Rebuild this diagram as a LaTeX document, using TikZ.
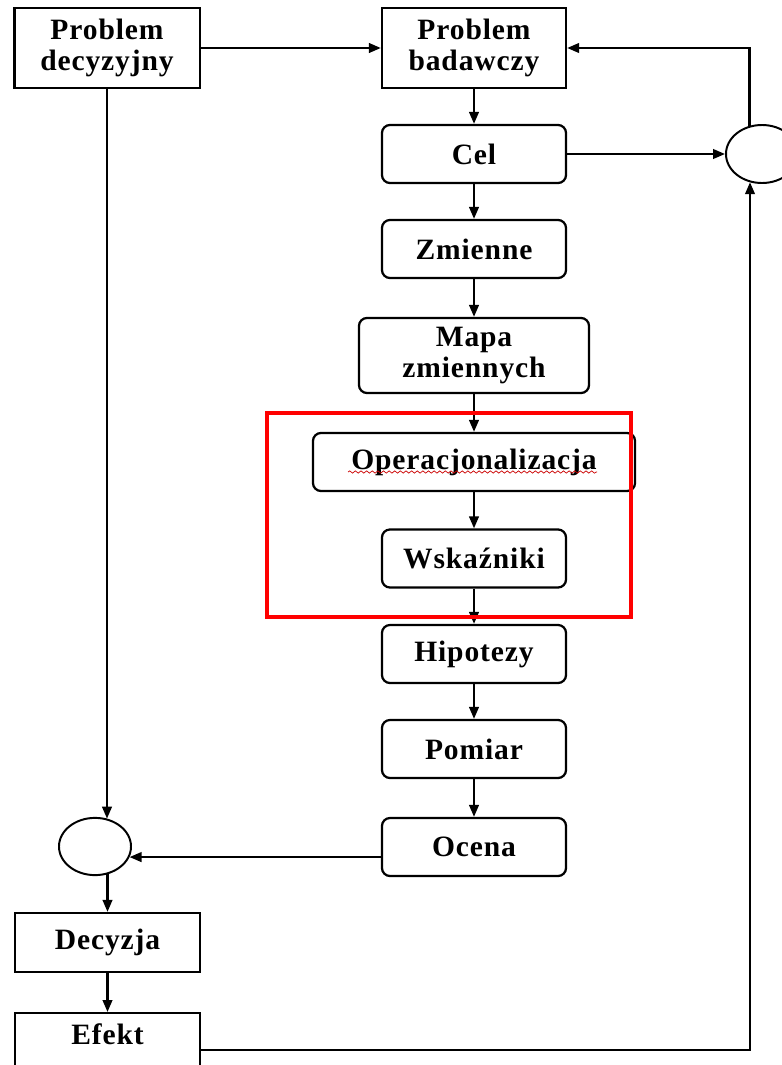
\documentclass[tikz,border=0pt]{standalone}
\usepackage{fontspec}
\setmainfont{Liberation Serif}[LetterSpace=3]
\usetikzlibrary{shapes.geometric,arrows.meta,decorations.pathmorphing}

\tikzset{
  box/.style={draw, line width=1.6pt, fill=white, align=center, inner sep=0pt,
    font=\bfseries\fontsize{21}{21.5}\selectfont},
  rbox/.style={box, rounded corners=0.2cm},
  junction/.style={ellipse, draw, line width=1.4pt, fill=white, inner sep=0pt,
    minimum width=1.8cm, minimum height=1.43cm},
  flow/.style={line width=1.6pt, -{Triangle[length=0.3cm,width=0.24cm]}},
  spell/.style={red!80!black, line width=0.5pt, decorate,
    decoration={snake, amplitude=0.8, segment length=4}},
}

\begin{document}
\begin{tikzpicture}[x=0.025cm, y=-0.025cm]

        \clip (0,0) rectangle (782,1065);
        \fill[white] (0,0) rectangle (782,1065);

        \begin{scope}[every node/.style={box, minimum width=4.63cm}]
          \node[minimum height=2cm] (pd)  at (107,48)  {Problem\\decyzyjny};
          \node[minimum width=4.6cm, minimum height=2cm] (pb)  at (474,48)  {Problem\\badawczy};
          \node[minimum height=1.475cm] (dec) at (107.5,942.5) {Decyzja};
          \node[anchor=north, text height=0.775cm, text depth=1.2cm] (efe) at (107.5,1012) {Efekt};
        \end{scope}

        \begin{scope}[every node/.style={rbox, minimum width=4.6cm, minimum height=1.45cm}]
          \node (cel)  at (474,154)  {Cel};
          \node (zm)   at (474,249)  {Zmienne};
          \node[minimum width=5.75cm, minimum height=1.875cm] (mapa) at (474,355.5) {Mapa\\zmiennych};
          \node[minimum width=8.05cm] (oper) at (474,462)  {Operacjonalizacja};
          \node (wsk)  at (474,558.5) {Wskaźniki};
          \node (hip)  at (474,654)  {Hipotezy};
          \node (pom)  at (474,749)  {Pomiar};
          \node (oce)  at (474,847)  {Ocena};
        \end{scope}

        \node[junction] (lc) at (95,846.5) {};
        \node[junction, minimum height=1.45cm] (rc) at (762,154) {};
        \coordinate (corner) at (750,1050);

        % main column
        \foreach \a/\b in {pb/cel, cel/zm, zm/mapa, mapa/oper, oper/wsk, wsk/hip, hip/pom, pom/oce}
          \draw[flow] (\a) -- (\b);

        \draw[flow] (pd) -- (pb);
        \draw[flow] (cel) -- (rc);
        \draw[flow] (rc.114) |- (pb.east);
        \draw[flow] (pd.south) -- (pd.south |- lc.66);
        \draw[flow] (oce.west |- lc.343) -- (lc.343);
        \draw[flow] (dec.north |- lc.294) -- (dec.north);
        \draw[flow] (dec) -- (efe);
        \draw[flow] (efe.east |- corner) -- (corner) -- (rc.246 -| corner);

        \draw[spell] (348,472) -- (597,472);

        \draw[red, line width=2.8pt] (267,413) rectangle (631,617);

      \end{tikzpicture}
\end{document}
